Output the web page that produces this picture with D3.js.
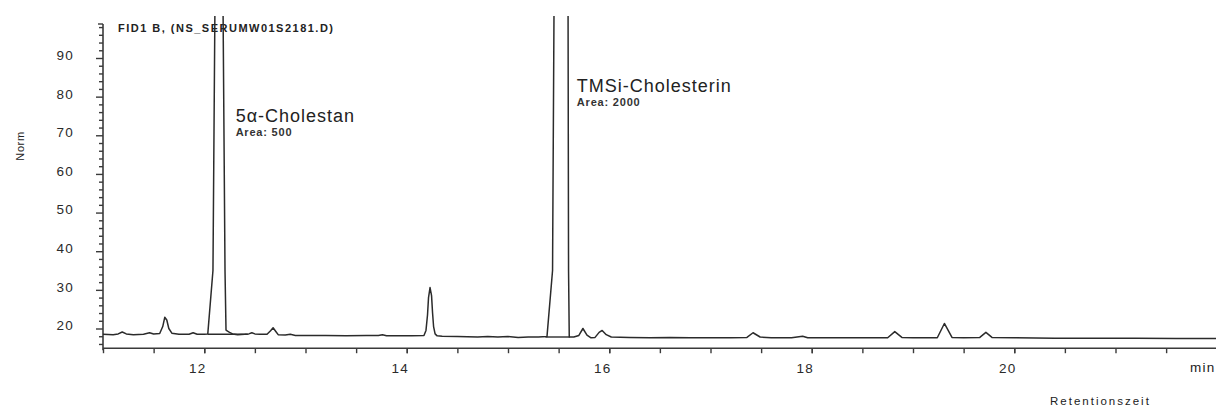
<!DOCTYPE html>
<html>
<head>
<meta charset="utf-8">
<script src="https://cdn.jsdelivr.net/npm/d3@7"></script>
<style>
  html, body { margin: 0; padding: 0; background: #fff; }
  svg { display: block; }
  text { font-family: "Liberation Sans", Arial, sans-serif; fill: #222; }
</style>
</head>
<body>
<svg id="chart" width="1216" height="408"></svg>
<script>
// FID signal: retention time (min) and detector response (Norm)
const retentionTimes = [
  11.00, 11.10, 11.15, 11.19, 11.23, 11.30, 11.40, 11.46, 11.50, 11.56,
  11.59, 11.61, 11.63, 11.65, 11.68, 11.75, 11.85, 11.89, 11.93, 12.00,
  12.035, 12.086, 12.106, 12.145, 12.185, 12.205, 12.215, 12.23, 12.25, 12.28,
  12.33, 12.40, 12.44, 12.47, 12.50, 12.55, 12.62, 12.655, 12.68, 12.705,
  12.73, 12.80, 12.85, 12.90, 13.00, 13.20, 13.40, 13.60, 13.72, 13.76,
  13.80, 13.90, 14.05, 14.17, 14.19, 14.205, 14.215, 14.23, 14.245, 14.255,
  14.265, 14.28, 14.30, 14.35, 14.50, 14.70, 14.80, 14.90, 15.00, 15.10,
  15.20, 15.30, 15.385, 15.44, 15.455, 15.52, 15.593, 15.598, 15.605, 15.65,
  15.70, 15.74, 15.78, 15.82, 15.86, 15.90, 15.93, 15.97, 16.02, 16.20,
  16.40, 16.60, 16.80, 17.00, 17.20, 17.36, 17.42, 17.49, 17.60, 17.80,
  17.91, 17.96, 18.20, 18.50, 18.75, 18.82, 18.89, 19.00, 19.20, 19.24,
  19.31, 19.385, 19.50, 19.66, 19.72, 19.78, 20.00, 20.40, 20.80, 21.20,
  21.60, 22.00
];
const responses = [
  18.5, 18.4, 18.6, 19.1, 18.6, 18.4, 18.5, 18.9, 18.6, 18.7,
  20.5, 22.9, 22.2, 20.0, 18.8, 18.5, 18.5, 18.9, 18.5, 18.5,
  18.6, 35.0, 105, 600, 105, 35.0, 19.6, 19.3, 19.0, 18.6,
  18.4, 18.5, 18.6, 18.9, 18.6, 18.5, 18.5, 19.4, 20.2, 19.3,
  18.4, 18.3, 18.5, 18.2, 18.2, 18.2, 18.1, 18.2, 18.2, 18.4,
  18.1, 18.1, 18.1, 18.2, 19.5, 23.5, 28.0, 30.6, 28.5, 24.0,
  20.5, 18.6, 18.1, 18.0, 17.9, 17.8, 17.9, 17.8, 17.9, 17.7,
  17.8, 17.8, 17.9, 35.0, 105, 700, 105, 35.0, 17.8, 17.8,
  18.2, 20.0, 18.3, 17.6, 17.7, 19.0, 19.5, 18.4, 17.8, 17.7,
  17.6, 17.7, 17.6, 17.6, 17.6, 17.7, 18.9, 17.8, 17.6, 17.6,
  18.0, 17.6, 17.6, 17.6, 17.6, 19.2, 17.7, 17.6, 17.6, 17.6,
  21.3, 17.7, 17.6, 17.7, 19.0, 17.7, 17.6, 17.5, 17.5, 17.5,
  17.4, 17.4
];

// Integration baselines under the two annotated peaks: [start, end, level]
const integrationStarts = [12.035, 15.37];
const integrationEnds   = [12.43, 15.61];
const integrationLevels = [18.5, 17.8];

// Peak annotations
const peakNames  = ["5\u03b1-Cholestan", "TMSi-Cholesterin"];
const peakAreas  = [500, 2000];
const peakLabelTimes = [12.31, 15.68];

// Axis ticks
const timeDomain = [11, 22];
const timeMajorTicks = [12, 14, 16, 18, 20];
const responseDomain = [14.9, 98.8];
const responseMajorTicks = [20, 30, 40, 50, 60, 70, 80, 90];

const svg = d3.select("#chart");

const x = d3.scaleLinear().domain(timeDomain).range([103, 1216.75]);
const y = d3.scaleLinear().domain([20, 90]).range([328.5, 58]);

const x0 = x(timeDomain[0]);
const yBottom = y(responseDomain[0]);
const yTop = y(responseDomain[1]);

// Clip the trace to the plotting area (tall peaks run off the top)
svg.append("defs").append("clipPath").attr("id", "plotClip")
  .append("rect")
  .attr("x", x0).attr("y", 16)
  .attr("width", 1216 - x0).attr("height", yBottom - 16);

const axisColor = "#3a3a3a";

// Y axis: labelled majors every 10, minors every 2
const minorY = d3.range(16, 99, 2).filter(v => v % 10 !== 0);
const yMinorAxis = d3.axisLeft(y).tickValues(minorY).tickSize(4).tickFormat("");
const yMajorAxis = d3.axisLeft(y).tickValues(responseMajorTicks).tickSize(7).tickPadding(22)
  .tickFormat(d3.format("d"));

const gyMinor = svg.append("g").attr("transform", `translate(${x0},0)`).call(yMinorAxis);
const gyMajor = svg.append("g").attr("transform", `translate(${x0},0)`).call(yMajorAxis);
[gyMinor, gyMajor].forEach(g => {
  g.select(".domain").remove();
  g.selectAll(".tick line").attr("stroke", axisColor).attr("stroke-width", 1.4);
});
gyMajor.selectAll(".tick text")
  .attr("font-size", 13.5).attr("letter-spacing", 1.2)
  .style("fill", "#2a2a2a")
  .attr("dy", "0.1em");

svg.append("line")
  .attr("x1", x0).attr("x2", x0)
  .attr("y1", yTop).attr("y2", yBottom + 2)
  .attr("stroke", axisColor).attr("stroke-width", 1.6);
svg.append("line")
  .attr("x1", x0 - 5).attr("x2", x0)
  .attr("y1", yTop).attr("y2", yTop)
  .attr("stroke", axisColor).attr("stroke-width", 1.4);

// X axis: ticks every half minute, labels every 2 min
const minorX = d3.range(11, 22.01, 0.5);
const xMinorAxis = d3.axisBottom(x).tickValues(minorX).tickSize(5).tickFormat("");
const xMajorAxis = d3.axisBottom(x).tickValues(timeMajorTicks).tickSize(5).tickPadding(10)
  .tickFormat(d3.format("d"));
const gxMinor = svg.append("g").attr("transform", `translate(0,${yBottom})`).call(xMinorAxis);
const gxMajor = svg.append("g").attr("transform", `translate(0,${yBottom})`).call(xMajorAxis);
[gxMinor, gxMajor].forEach(g => {
  g.select(".domain").remove();
  g.selectAll(".tick line").attr("stroke", axisColor).attr("stroke-width", 1.4);
});
gxMajor.selectAll(".tick text")
  .attr("font-size", 13.5).attr("letter-spacing", 1.2)
  .attr("dx", -7)
  .style("fill", "#2a2a2a");

svg.append("line")
  .attr("x1", x0).attr("x2", 1216)
  .attr("y1", yBottom).attr("y2", yBottom)
  .attr("stroke", axisColor).attr("stroke-width", 1.6);

// Axis titles
svg.append("text")
  .attr("transform", "translate(24,146) rotate(-90)")
  .attr("text-anchor", "middle")
  .attr("font-size", 11)
  .attr("letter-spacing", 0.6)
  .text("Norm");
svg.append("text")
  .attr("x", 1190).attr("y", 372)
  .attr("font-size", 13.5).attr("letter-spacing", 1.2)
  .text("min");
svg.append("text")
  .attr("x", 1050).attr("y", 405)
  .attr("font-size", 11.5).attr("letter-spacing", 2)
  .text("Retentionszeit");

// Signal title
svg.append("text")
  .attr("x", 118).attr("y", 32)
  .attr("font-size", 11).attr("font-weight", "bold")
  .attr("textLength", 215).attr("lengthAdjust", "spacing")
  .text("FID1 B, (NS_SERUMW01S2181.D)");

// Chromatogram trace
const points = retentionTimes.map((t, i) => [t, responses[i]]);
const line = d3.line().x(d => x(d[0])).y(d => y(d[1]));
svg.append("path")
  .datum(points)
  .attr("clip-path", "url(#plotClip)")
  .attr("fill", "none")
  .attr("stroke", "#2b2b2b")
  .attr("stroke-width", 1.5)
  .attr("stroke-linejoin", "round")
  .attr("d", line);

// Integration baselines
integrationStarts.forEach((s, i) => {
  svg.append("line")
    .attr("x1", x(s)).attr("x2", x(integrationEnds[i]))
    .attr("y1", y(integrationLevels[i])).attr("y2", y(integrationLevels[i]))
    .attr("stroke", "#2b2b2b").attr("stroke-width", 1.4);
});

// Peak labels
const labelBaselines = [122, 92];
peakNames.forEach((name, i) => {
  const lx = x(peakLabelTimes[i]);
  svg.append("text")
    .attr("x", lx).attr("y", labelBaselines[i])
    .attr("font-size", 18).attr("letter-spacing", 1)
    .text(name);
  svg.append("text")
    .attr("x", lx).attr("y", labelBaselines[i] + 14)
    .attr("font-size", 11).attr("font-weight", "bold").attr("letter-spacing", 0.8)
    .style("fill", "#333")
    .text("Area: " + peakAreas[i]);
});
</script>
</body>
</html>
